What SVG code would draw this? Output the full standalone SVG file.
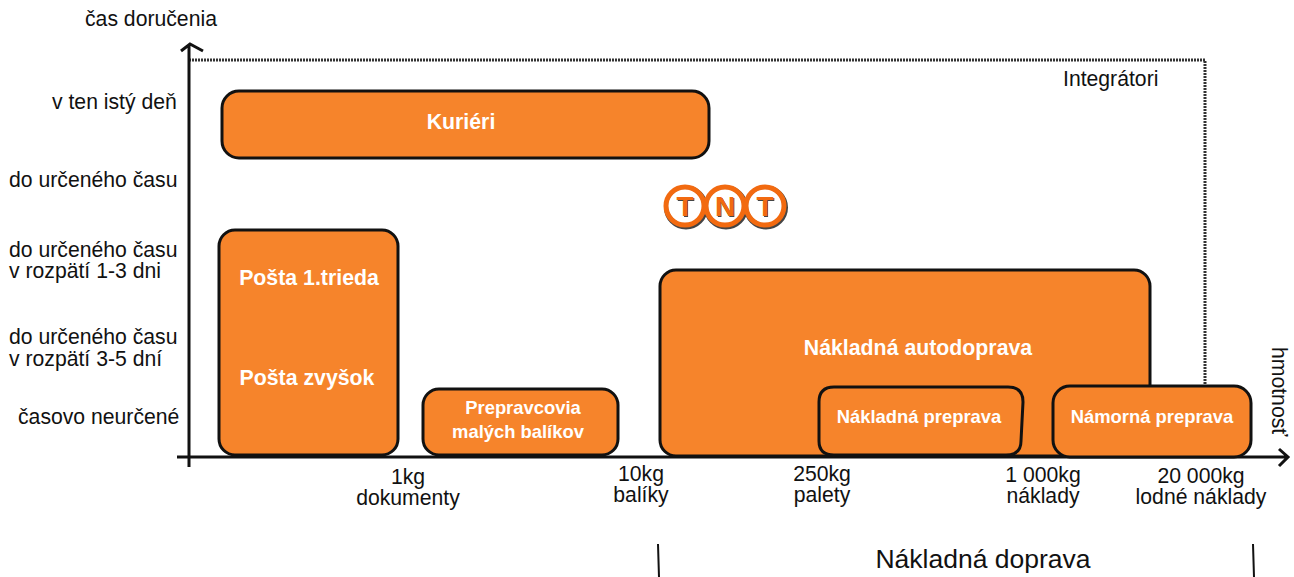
<svg xmlns="http://www.w3.org/2000/svg" width="1294" height="577" viewBox="0 0 1294 577">
<defs><filter id="soft" x="-20%" y="-20%" width="140%" height="140%"><feGaussianBlur stdDeviation="0.7"/></filter></defs>
<style>
text{font-family:"Liberation Sans",Arial,sans-serif;fill:#111}
.l{font-size:21.2px}
.m{text-anchor:middle}
.b{fill:#f6842b;stroke:#111;stroke-width:3}
.w{fill:#fff;font-weight:bold;text-anchor:middle}
.big{font-size:21.3px}
.sm{font-size:18.4px}
.ax{fill:none;stroke:#111;stroke-width:3}
.dot{fill:none;stroke:#333;stroke-width:3;stroke-dasharray:2 1}
.s{fill:none;stroke:#444;stroke-width:6}
.c{fill:none;stroke:#f26a10;stroke-width:5}
.t{font-weight:bold;font-size:28px;text-anchor:middle}
</style>
<g id="connectors">
<path class="dot" d="M189 60H1205V387"/>
<path class="ax" d="M189 467V45M181 51L190 44L203 51"/>
<path class="ax" d="M177 457H1287M1279 449L1288 457L1279 466"/>
<path d="M658 544L659 577M1253 544L1254 577" fill="none" stroke="#111" stroke-width="2"/>
</g>
<g id="axis-labels">
<text class="l" x="85" y="26">čas doručenia</text>
<text class="l" x="52" y="109">v ten istý deň</text>
<text class="l" x="9" y="187">do určeného času</text>
<text class="l" x="9" y="257">do určeného času</text>
<text class="l" x="9" y="278">v rozpätí 1-3 dni</text>
<text class="l" x="9" y="344">do určeného času</text>
<text class="l" x="9" y="366">v rozpätí 3-5 dní</text>
<text class="l" x="18" y="424">časovo neurčené</text>
<text class="l" x="1063" y="86">Integrátori</text>
<text class="l" transform="translate(1272 347) rotate(90)">hmotnosť</text>
<text class="l m" x="408" y="484">1kg</text>
<text class="l m" x="408" y="505">dokumenty</text>
<text class="l m" x="641" y="481">10kg</text>
<text class="l m" x="641" y="502">balíky</text>
<text class="l m" x="822" y="481">250kg</text>
<text class="l m" x="822" y="502">palety</text>
<text class="l m" x="1043" y="482">1 000kg</text>
<text class="l m" x="1043" y="503">náklady</text>
<text class="l m" x="1201" y="483">20 000kg</text>
<text class="l m" x="1201" y="504">lodné náklady</text>
<text x="983" y="568" font-size="26.5" class="m">Nákladná doprava</text>
</g>
<g id="kurieri"><rect class="b" x="222" y="91" width="487" height="67" rx="17"/><text class="w big" x="461" y="129">Kuriéri</text></g>
<g id="posta"><rect class="b" x="219" y="230" width="179" height="225" rx="16"/><text class="w big" x="309" y="285">Pošta 1.trieda</text><text class="w big" x="307" y="385">Pošta zvyšok</text></g>
<g id="prepravcovia"><rect class="b" x="423" y="389" width="195" height="66" rx="16"/><text class="w sm" x="523" y="414">Prepravcovia</text><text class="w sm" x="518" y="438">malých balíkov</text></g>
<g id="autodoprava"><rect class="b" x="660" y="270" width="490" height="186" rx="16"/><text class="w big" x="918" y="355">Nákladná autodoprava</text></g>
<g id="nakladna-preprava"><path class="b" d="M834 387H1008Q1023 387 1023 402L1021 441Q1021 455 1006 455H834Q819 455 819 441V402Q819 387 834 387Z"/><text class="w sm" x="919" y="423">Nákladná preprava</text></g>
<g id="namorna-preprava"><rect class="b" x="1053" y="386" width="198" height="71" rx="17"/><text class="w sm" x="1152" y="423">Námorná preprava</text></g>
<g id="tnt-logo">
<g filter="url(#soft)" transform="translate(1 1.5)">
<circle class="s" cx="685" cy="206" r="19"/><circle class="s" cx="725" cy="206" r="19"/><circle class="s" cx="765" cy="206" r="19"/>
</g>
<g filter="url(#soft)">
<circle fill="#fff" cx="685" cy="206" r="17"/><circle fill="#fff" cx="725" cy="206" r="17"/><circle fill="#fff" cx="765" cy="206" r="17"/>
<text class="t" x="686" y="217" style="fill:#444">T</text><text class="t" x="726" y="217" style="fill:#444">N</text><text class="t" x="766" y="217" style="fill:#444">T</text>
</g>
<circle class="c" cx="685" cy="206" r="19"/><circle class="c" cx="725" cy="206" r="19"/><circle class="c" cx="765" cy="206" r="19"/>
<text class="t" x="685" y="216" style="fill:#f26a10">T</text><text class="t" x="725" y="216" style="fill:#f26a10">N</text><text class="t" x="765" y="216" style="fill:#f26a10">T</text>
</g>
</svg>
